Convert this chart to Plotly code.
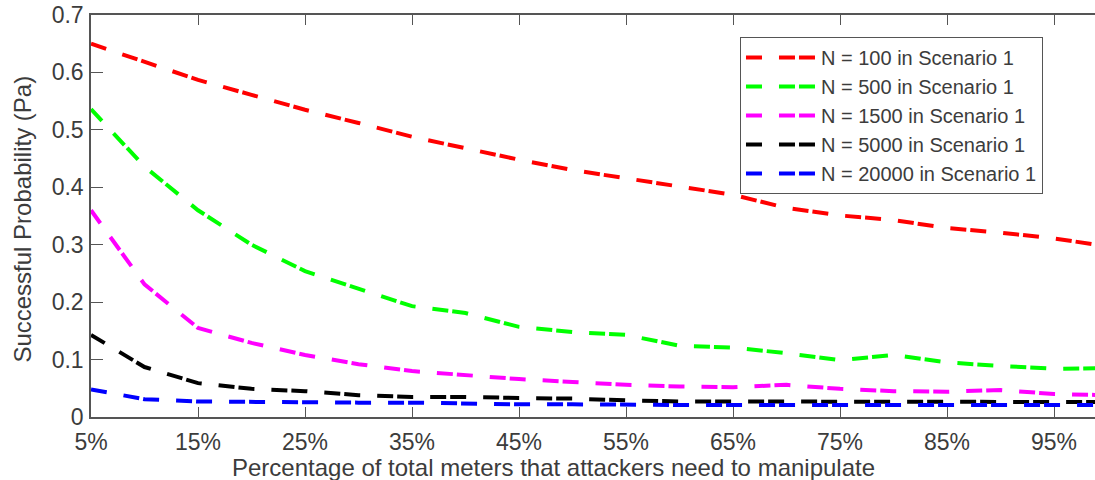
import plotly.graph_objects as go

# Percentage of total meters (x, in %)
pct = [5, 10, 15, 20, 25, 30, 35, 40, 45, 50, 55, 60, 65, 70, 75, 80, 85, 90, 95, 100]

n100 = [0.650, 0.619, 0.587, 0.561, 0.535, 0.512, 0.488, 0.468, 0.448, 0.430,
        0.416, 0.401, 0.387, 0.364, 0.351, 0.343, 0.329, 0.321, 0.311, 0.297]
n500 = [0.536, 0.436, 0.360, 0.300, 0.254, 0.224, 0.193, 0.181, 0.157, 0.148,
        0.143, 0.124, 0.121, 0.111, 0.099, 0.108, 0.095, 0.089, 0.084, 0.085]
n1500 = [0.360, 0.231, 0.155, 0.129, 0.108, 0.092, 0.080, 0.073, 0.066, 0.061,
         0.056, 0.053, 0.052, 0.056, 0.049, 0.045, 0.044, 0.047, 0.040, 0.038]
n5000 = [0.143, 0.087, 0.059, 0.049, 0.045, 0.038, 0.035, 0.035, 0.033, 0.032,
         0.029, 0.027, 0.027, 0.027, 0.027, 0.027, 0.027, 0.026, 0.026, 0.026]
n20000 = [0.048, 0.031, 0.027, 0.026, 0.026, 0.025, 0.025, 0.023, 0.022, 0.022,
          0.021, 0.021, 0.021, 0.021, 0.021, 0.021, 0.021, 0.021, 0.021, 0.021]

series_names = ["N = 100 in Scenario 1", "N = 500 in Scenario 1", "N = 1500 in Scenario 1",
                "N = 5000 in Scenario 1", "N = 20000 in Scenario 1"]
series_values = [n100, n500, n1500, n5000, n20000]
series_colors = ["#ff0000", "#00ff00", "#ff00ff", "#000000", "#0000ff"]

xtick_vals = [5, 15, 25, 35, 45, 55, 65, 75, 85, 95]
xtick_text = ["5%", "15%", "25%", "35%", "45%", "55%", "65%", "75%", "85%", "95%"]
ytick_vals = [0, 0.1, 0.2, 0.3, 0.4, 0.5, 0.6, 0.7]
ytick_text = ["0", "0.1", "0.2", "0.3", "0.4", "0.5", "0.6", "0.7"]

FONT = "Liberation Sans, Arial, Helvetica, sans-serif"
TXT = "#3c3c3c"
AX = "#555555"

fig = go.Figure()
for name, vals, col in zip(series_names, series_values, series_colors):
    fig.add_trace(go.Scatter(
        x=pct, y=vals, mode="lines", name=name,
        line=dict(color=col, width=4, dash="16px,17px,16px,4px"),
        cliponaxis=True,
    ))

fig.update_layout(
    width=1095, height=480,
    margin=dict(l=91, r=0, t=15, b=63),
    paper_bgcolor="white", plot_bgcolor="white",
    font=dict(family=FONT, color=TXT, size=23),
    showlegend=True,
    legend=dict(
        x=0.6464, y=0.945, xanchor="left", yanchor="top",
        bgcolor="white", bordercolor=AX, borderwidth=1,
        font=dict(family=FONT, size=20, color=TXT),
        itemwidth=70,
    ),
    xaxis=dict(
        range=[5, 98.83], tickmode="array", tickvals=xtick_vals, ticktext=xtick_text,
        showgrid=False, zeroline=False, showline=True, linecolor=AX, linewidth=1.5,
        mirror="ticks", ticks="inside", ticklen=10, tickcolor=AX, tickwidth=1.2,
        tickfont=dict(family=FONT, size=23, color=TXT), ticklabelstandoff=4,
    ),
    yaxis=dict(
        range=[0, 0.7], tickmode="array", tickvals=ytick_vals, ticktext=ytick_text,
        showgrid=False, zeroline=False, showline=True, linecolor=AX, linewidth=1.5,
        ticks="inside", ticklen=12, tickcolor=AX, tickwidth=1.2,
        tickfont=dict(family=FONT, size=23, color=TXT), ticklabelstandoff=1,
    ),
    annotations=[
        dict(text="Percentage of total meters that attackers need to manipulate",
             xref="paper", yref="paper", x=0.461, y=(417 - 467) / 402,
             xanchor="center", yanchor="middle", showarrow=False,
             font=dict(family=FONT, size=24, color=TXT)),
        dict(text="Successful Probability (Pa)",
             xref="paper", yref="paper", x=(23 - 91) / 1004, y=0.491,
             xanchor="center", yanchor="middle", showarrow=False, textangle=-90,
             font=dict(family=FONT, size=24, color=TXT)),
    ],
)

fig.write_html("out.html")
